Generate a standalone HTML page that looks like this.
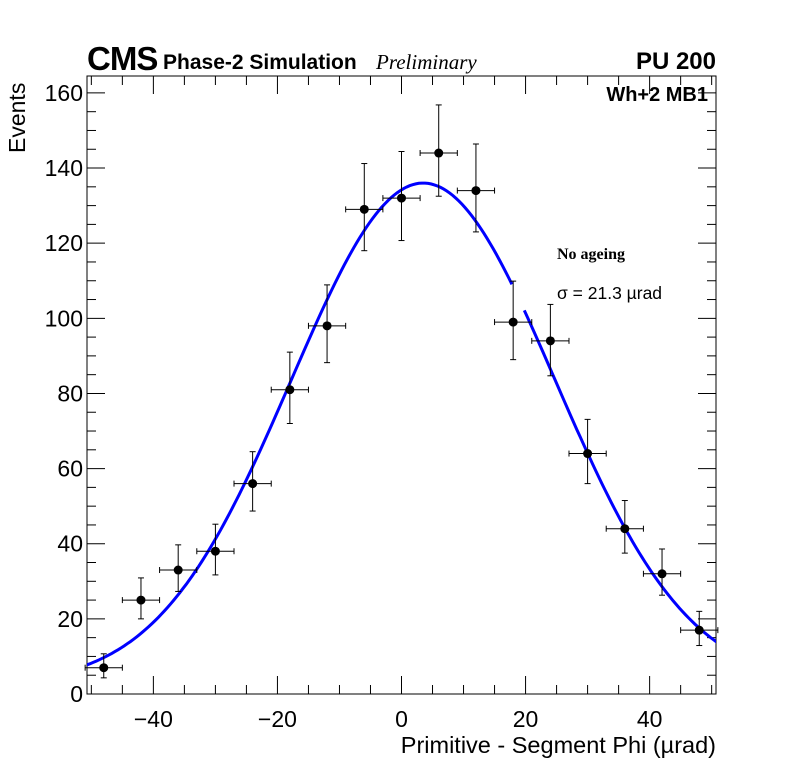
<!DOCTYPE html>
<html><head><meta charset="utf-8"><style>
body{margin:0;background:#fff;}
svg text{font-family:"Liberation Sans",sans-serif;}
</style></head><body>
<svg id="chart" width="796" height="772" xmlns="http://www.w3.org/2000/svg">
<defs><clipPath id="pc"><rect x="87" y="76" width="629" height="618"/></clipPath></defs>
<rect width="796" height="772" fill="#fff"/>
<g id="g"></g>
</svg>
<script>
const binCenters=[-48,-42,-36,-30,-24,-18,-12,-6,0,6,12,18,24,30,36,42,48];
const counts=[7,25,33,38,56,81,98,129,132,144,134,99,94,64,44,32,17];
const errUp=[3.7,5.9,6.7,7.2,8.5,10,10.9,12.2,12.4,12.8,12.4,10.9,9.7,9.1,7.5,6.6,5];
const errDn=[2.7,5,5.7,6.3,7.3,9,9.8,11,11.3,11.5,11,10,9.3,8,6.5,5.7,4.1];
const xTicks=[-40,-20,0,20,40];
const yTicks=[0,20,40,60,80,100,120,140,160];
const fitParams=[133.5,3.5,21.3,2.5];
const L=87,R=716,T=76,B=694,XMIN=-50.7,XMAX=50.7,YMIN=0,YMAX=164.5;
const sx=v=>L+(v-XMIN)/(XMAX-XMIN)*(R-L);
const sy=v=>B-(v-YMIN)/(YMAX-YMIN)*(B-T);
const NS="http://www.w3.org/2000/svg",g=document.getElementById('g');
function el(t,a,p){const e=document.createElementNS(NS,t);for(const k in a)e.setAttribute(k,a[k]);(p||g).appendChild(e);return e;}
function txt(s,a){const e=el('text',a);e.textContent=s;return e;}
const frame=el('rect',{x:L,y:T,width:R-L,height:B-T,fill:'none',stroke:'#000','stroke-width':1});


for(let v=-50;v<=50;v+=5){if(v<XMIN||v>XMAX)continue;const maj=v%20===0;const x=sx(v);
 const t=el('line',{x1:x,x2:x,y1:B,y2:B-(maj?18:9),stroke:'#000'});
 
 const t2=el('line',{x1:x,x2:x,y1:T,y2:T+(maj?18:9),stroke:'#000'});
 }
xTicks.forEach(v=>{const s=(v<0?'\u2212'+(-v):''+v);const t=txt(s,{x:sx(v),y:727,'font-size':23,'text-anchor':'middle'});
 });
for(let v=0;v<=YMAX;v+=5){const maj=v%20===0;const y=sy(v);
 const t=el('line',{x1:L,x2:L+(maj?18:9),y1:y,y2:y,stroke:'#000'});
 
 const t2=el('line',{x1:R,x2:R-(maj?18:9),y1:y,y2:y,stroke:'#000'});
 }
yTicks.forEach(v=>{const t=txt(''+v,{x:83,y:sy(v)+8,'font-size':23,'text-anchor':'end'});
 });
const f=x=>fitParams[0]*Math.exp(-Math.pow(x-fitParams[1],2)/(2*fitParams[2]*fitParams[2]))+fitParams[3];
let d1='',d2='';
for(let x=XMIN-1;x<=XMAX+1.5;x+=0.5){const px=sx(x),py=sy(f(x));
 if(x<=18.2)d1+=(d1?'L':'M')+px.toFixed(1)+','+py.toFixed(1);
 else if(x>=19.6)d2+=(d2?'L':'M')+px.toFixed(1)+','+py.toFixed(1);}
const c1=el('path',{d:d1,fill:'none',stroke:'#0000ff','stroke-width':3,'clip-path':'url(#pc)'});

const c2=el('path',{d:d2,fill:'none',stroke:'#0000ff','stroke-width':3,'clip-path':'url(#pc)'});

binCenters.forEach((c,i)=>{const gp=el('g',{});
 
 const x=sx(c),y=sy(counts[i]),x0=sx(c-3),x1=sx(c+3),yu=sy(counts[i]+errUp[i]),yd=sy(counts[i]-errDn[i]);
 el('line',{x1:x0,x2:x1,y1:y,y2:y,stroke:'#000'},gp);
 el('line',{x1:x,x2:x,y1:yu,y2:yd,stroke:'#000'},gp);
 el('line',{x1:x-3,x2:x+3,y1:yu,y2:yu,stroke:'#000'},gp);
 el('line',{x1:x-3,x2:x+3,y1:yd,y2:yd,stroke:'#000'},gp);
 el('line',{x1:x0,x2:x0,y1:y-3,y2:y+3,stroke:'#000'},gp);
 el('line',{x1:x1,x2:x1,y1:y-3,y2:y+3,stroke:'#000'},gp);
 el('circle',{cx:x,cy:y,r:4.5,fill:'#000'},gp);});
</script>
<svg width="796" height="772" style="position:absolute;left:0;top:0" xmlns="http://www.w3.org/2000/svg">
<text x="87" y="70" font-size="33" font-weight="bold" style="font-family:'Liberation Sans',sans-serif;letter-spacing:-1px">CMS</text>
<text x="163" y="69" font-size="21" font-weight="bold" style="font-family:'Liberation Sans',sans-serif">Phase-2 Simulation</text>
<text x="376" y="69" font-size="21" font-style="italic" style="font-family:'Liberation Serif',serif">Preliminary</text>
<text x="716" y="69" font-size="24" font-weight="bold" text-anchor="end" style="font-family:'Liberation Sans',sans-serif">PU 200</text>
<text x="708" y="101" font-size="20" font-weight="bold" text-anchor="end" style="font-family:'Liberation Sans',sans-serif">Wh+2 MB1</text>
<text x="557" y="259" font-size="16" font-weight="bold" style="font-family:'Liberation Serif',serif">No ageing</text>
<text x="557" y="299" font-size="17.5" style="font-family:'Liberation Sans',sans-serif">σ = 21.3 µrad</text>
<text transform="translate(25,153) rotate(-90)" font-size="23" style="font-family:'Liberation Sans',sans-serif">Events</text>
<text x="716" y="753" font-size="23.5" text-anchor="end" style="font-family:'Liberation Sans',sans-serif">Primitive - Segment Phi (µrad)</text>
</svg>
</body></html>
